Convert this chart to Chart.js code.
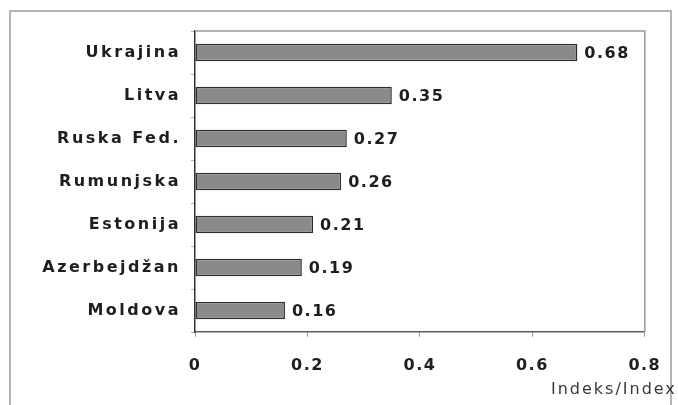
<!DOCTYPE html>
<html>
<head>
<meta charset="utf-8">
<script src="https://cdn.jsdelivr.net/npm/chart.js@4.4.0/dist/chart.umd.min.js"></script>
<style>
  html, body { margin: 0; padding: 0; background: #fff; }
  #wrap { position: relative; width: 678px; height: 405px; overflow: hidden; }
  #frame { position: absolute; left: 9px; top: 10px; width: 663px; height: 430px;
           border: 2px solid #b4b4b4; box-sizing: border-box; }
  canvas { position: absolute; left: 0; top: 0; }
</style>
</head>
<body>
<div id="wrap">
  <div id="frame"></div>
  <canvas id="c" width="678" height="405" style="width:678px;height:405px"></canvas>
</div>
<script>
// Index by country
const countries = ['Ukrajina', 'Litva', 'Ruska Fed.', 'Rumunjska', 'Estonija', 'Azerbejdžan', 'Moldova'];
const indexValues = [0.68, 0.35, 0.27, 0.26, 0.21, 0.19, 0.16];
const xTickValues = [0, 0.2, 0.4, 0.6, 0.8];
const xAxisTitle = 'Indeks/Index';

const FONT = '"DejaVu Sans", Verdana, sans-serif';
const SPACING = '1.5px';
const LABEL_SPACING = '2.5px';

// Tracked text for the labels the chart draws; category names a little wider
const tracking = {
  id: 'tracking',
  beforeDraw(chart) { chart.ctx.letterSpacing = SPACING; },
  beforeDatasetsDraw(chart) { chart.ctx.letterSpacing = SPACING; }
};

// Category axis labels get their own tracking while the y scale draws
const yTracking = {
  id: 'yTracking',
  beforeDraw(chart) {
    const y = chart.scales.y;
    if (!y._trackWrapped) {
      const draw = y.drawLabels.bind(y);
      y.drawLabels = (area) => {
        const prev = chart.ctx.letterSpacing;
        chart.ctx.letterSpacing = LABEL_SPACING;
        draw(area);
        chart.ctx.letterSpacing = prev;
      };
      y._trackWrapped = true;
    }
  }
};

// Grey frame on the top and right of the plot area
const plotFrame = {
  id: 'plotFrame',
  beforeDatasetsDraw(chart) {
    const { ctx, chartArea: a } = chart;
    ctx.save();
    ctx.strokeStyle = '#9a9a9a';
    ctx.lineWidth = 1.5;
    ctx.beginPath();
    ctx.moveTo(a.left, a.top);
    ctx.lineTo(a.right, a.top);
    ctx.lineTo(a.right, a.bottom);
    ctx.stroke();
    ctx.restore();
  }
};

// Value printed just past the end of each bar
const valueLabels = {
  id: 'valueLabels',
  afterDatasetsDraw(chart) {
    const { ctx } = chart;
    const meta = chart.getDatasetMeta(0);
    const data = chart.data.datasets[0].data;
    ctx.save();
    ctx.letterSpacing = SPACING;
    ctx.font = 'bold 16px ' + FONT;
    ctx.fillStyle = '#1e1e1e';
    ctx.textAlign = 'left';
    ctx.textBaseline = 'middle';
    meta.data.forEach((bar, i) => {
      ctx.fillText(data[i].toFixed(2), bar.x + 7, bar.y + 1);
    });
    ctx.restore();
  }
};

// Axis title placed under the right end of the value axis
const axisTitle = {
  id: 'axisTitle',
  afterDraw(chart) {
    const { ctx, chartArea: a } = chart;
    ctx.save();
    ctx.letterSpacing = '2px';
    ctx.font = '16px ' + FONT;
    ctx.fillStyle = '#3a3a3a';
    ctx.textAlign = 'right';
    ctx.textBaseline = 'middle';
    ctx.fillText(xAxisTitle, a.right + 32, 390);
    ctx.restore();
  }
};

new Chart(document.getElementById('c'), {
  type: 'bar',
  data: {
    labels: countries,
    datasets: [{
      data: indexValues,
      backgroundColor: '#8a8a8a',
      borderColor: '#2e2e2e',
      borderWidth: 1.5,
      borderSkipped: false,
      categoryPercentage: 1,
      barPercentage: 0.41
    }]
  },
  options: {
    indexAxis: 'y',
    responsive: false,
    animation: false,
    devicePixelRatio: 1,
    layout: { padding: { top: 31, right: 32, left: 0, bottom: 0 } },
    plugins: { legend: { display: false }, tooltip: { enabled: false } },
    scales: {
      x: {
        min: 0, max: 0.8,
        afterBuildTicks(scale) { scale.ticks = xTickValues.map(v => ({ value: v })); },
        afterFit(scale) { scale.height = 73; },
        grid: { drawOnChartArea: false, drawTicks: true, tickLength: 5, color: '#9a9a9a' },
        border: { display: true, color: '#5a5a5a', width: 1.5 },
        ticks: {
          padding: 19,
          color: '#1e1e1e',
          font: { family: FONT, size: 16, weight: 'bold' },
          callback: v => String(v)
        }
      },
      y: {
        afterFit(scale) { scale.width = 195; },
        grid: { drawOnChartArea: false, drawTicks: true, tickLength: 4, color: '#b0b0b0', offset: true },
        border: { display: true, color: '#333333', width: 1.5 },
        ticks: {
          padding: 10,
          color: '#1e1e1e',
          font: { family: FONT, size: 16, weight: 'bold' }
        }
      }
    }
  },
  plugins: [tracking, yTracking, plotFrame, valueLabels, axisTitle]
});
</script>
</body>
</html>
